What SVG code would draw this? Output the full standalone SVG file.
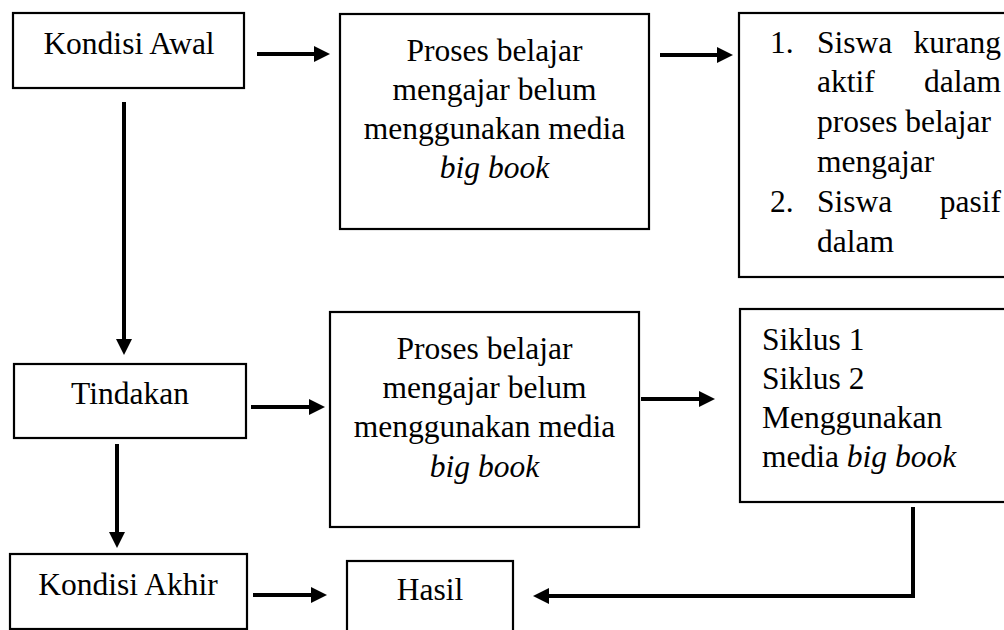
<svg xmlns="http://www.w3.org/2000/svg" width="1004" height="630" viewBox="0 0 1004 630">
<style>
.box{fill:#fff;stroke:#000;stroke-width:2.2}
.t{font-family:"Liberation Serif","Times New Roman",serif;font-size:31.5px;fill:#000}
.c{text-anchor:middle}
.e{text-anchor:end}
.i{font-style:italic}
.conn{fill:none;stroke:#000;stroke-width:4}
</style>
<defs>
<marker id="ah" markerUnits="userSpaceOnUse" markerWidth="18" markerHeight="18" refX="3" refY="8" orient="auto">
<path d="M0,0 L16,8 L0,16 z" fill="#000"/>
</marker>
</defs>
<rect width="1004" height="630" fill="#fff"/>

<g id="kondisi-awal">
<rect class="box" x="13" y="13" width="231" height="75"/>
<text class="t c" x="129" y="54">Kondisi Awal</text>
</g>

<g id="proses-1">
<rect class="box" x="340" y="14" width="309" height="215"/>
<text class="t c" x="494.5" y="61">Proses belajar</text>
<text class="t c" x="494.5" y="100">mengajar belum</text>
<text class="t c" x="494.5" y="139">menggunakan media</text>
<text class="t c i" x="494.5" y="178">big book</text>
</g>

<g id="masalah">
<rect class="box" x="739" y="13" width="280" height="264"/>
<text class="t" x="770" y="53">1.</text>
<text class="t" x="817" y="53">Siswa</text>
<text class="t e" x="1001" y="53">kurang</text>
<text class="t" x="817" y="92">aktif</text>
<text class="t e" x="1001" y="92">dalam</text>
<text class="t" x="817" y="132">proses belajar</text>
<text class="t" x="817" y="172">mengajar</text>
<text class="t" x="770" y="212">2.</text>
<text class="t" x="817" y="212">Siswa</text>
<text class="t e" x="1001" y="212">pasif</text>
<text class="t" x="817" y="252">dalam</text>
</g>

<g id="tindakan">
<rect class="box" x="14" y="364" width="232" height="74"/>
<text class="t c" x="130" y="404">Tindakan</text>
</g>

<g id="proses-2">
<rect class="box" x="330" y="312" width="309" height="215"/>
<text class="t c" x="484.5" y="359">Proses belajar</text>
<text class="t c" x="484.5" y="398">mengajar belum</text>
<text class="t c" x="484.5" y="437">menggunakan media</text>
<text class="t c i" x="484.5" y="477">big book</text>
</g>

<g id="siklus">
<rect class="box" x="740" y="309" width="280" height="193"/>
<text class="t" x="762" y="350">Siklus 1</text>
<text class="t" x="762" y="389">Siklus 2</text>
<text class="t" x="762" y="428">Menggunakan</text>
<text class="t" x="762" y="467">media <tspan class="i">big book</tspan></text>
</g>

<g id="kondisi-akhir">
<rect class="box" x="10" y="554" width="237" height="75"/>
<text class="t c" x="128" y="595">Kondisi Akhir</text>
</g>

<g id="hasil">
<rect class="box" x="347" y="561" width="166" height="80"/>
<text class="t c" x="430" y="600">Hasil</text>
</g>

<g id="connectors">
<line class="conn" x1="257" y1="54" x2="317" y2="54" marker-end="url(#ah)"/>
<line class="conn" x1="660" y1="55" x2="720" y2="55" marker-end="url(#ah)"/>
<line class="conn" x1="124" y1="102" x2="124" y2="342" marker-end="url(#ah)"/>
<line class="conn" x1="251" y1="407" x2="312" y2="407" marker-end="url(#ah)"/>
<line class="conn" x1="117" y1="444" x2="117" y2="535" marker-end="url(#ah)"/>
<line class="conn" x1="641" y1="399" x2="702" y2="399" marker-end="url(#ah)"/>
<line class="conn" x1="253" y1="595" x2="314" y2="595" marker-end="url(#ah)"/>
<path class="conn" d="M913,507 L913,596 L546,596" marker-end="url(#ah)"/>
</g>
</svg>
